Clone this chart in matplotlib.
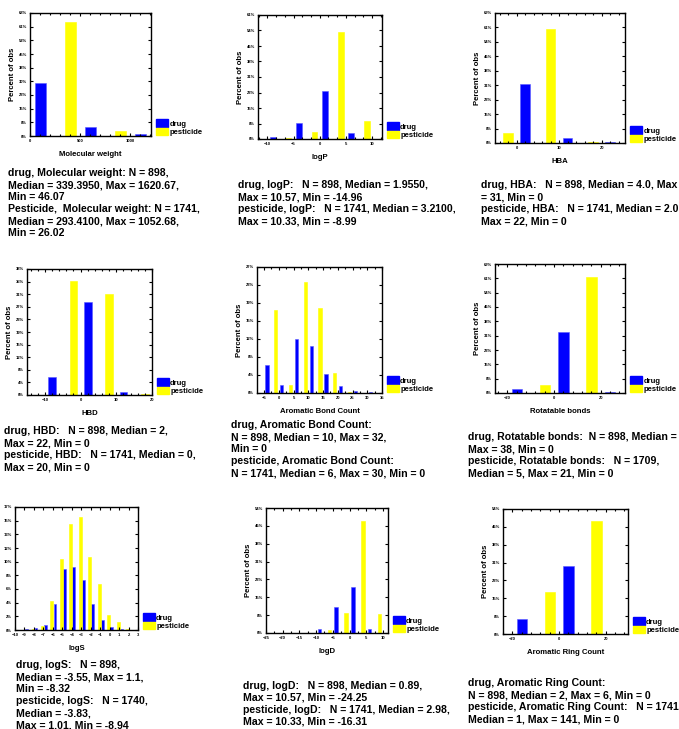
import matplotlib.pyplot as plt
from matplotlib.patches import Patch
from matplotlib.ticker import AutoMinorLocator

plt.rcParams['font.family'] = ['Liberation Sans', 'DejaVu Sans']
plt.rcParams['font.weight'] = 'bold'

W, H = 679, 729
DRUG_COLOR = '#0000ff'
PEST_COLOR = '#ffff00'

# ---- data (percent of all observations, bins given by their centres) ----
mw_bins = [250, 750, 1250]
mw_drug = [29.2, 5.0, 1.1]
mw_pest = [63.2, 2.8, 0.0]

logp_bins = [-12.5, -7.5, -2.5, 2.5, 7.5]
logp_drug = [0.0, 1.0, 7.8, 23.5, 2.8]
logp_pest = [0.0, 0.6, 3.6, 52.8, 9.1]

hba_bins = [-5, 5, 15, 25]
hba_drug = [0.0, 31.5, 2.6, 0.4]
hba_pest = [5.3, 60.6, 0.3, 0.0]

hbd_bins = [-5, 5, 15]
hbd_drug = [5.6, 28.2, 1.0]
hbd_pest = [34.7, 30.8, 0.2]

abc_bins = [-2.5, 2.5, 7.5, 12.5, 17.5, 22.5, 27.5, 32.5]
abc_drug = [6.0, 1.6, 11.5, 9.9, 4.0, 1.4, 0.5, 0.2]
abc_pest = [17.7, 1.6, 23.7, 18.1, 4.3, 0.3, 0.0, 0.0]

rot_bins = [-10, 10, 30]
rot_drug = [2.1, 32.6, 0.7]
rot_pest = [4.1, 61.8, 0.0]

logs_bins = [-9, -8, -7, -6, -5, -4, -3, -2, -1, 0, 1, 2]
logs_drug = [0.14, 0.3, 0.75, 3.6, 8.5, 8.9, 7.0, 3.6, 1.45, 0.47, 0.14, 0.0]
logs_pest = [0.0, 0.2, 0.6, 4.1, 9.9, 14.9, 15.9, 10.2, 6.4, 2.1, 1.1, 0.14]

logd_bins = [-22.5, -17.5, -12.5, -7.5, -2.5, 2.5, 7.5, 12.5]
logd_drug = [0.2, 0.2, 0.2, 1.6, 11.3, 19.9, 1.6, 0.2]
logd_pest = [0.0, 0.0, 0.2, 1.2, 8.7, 48.1, 8.1, 0.0]

arc_bins = [-10, 10, 30]
arc_drug = [6.3, 29.0, 0.2]
arc_pest = [18.0, 48.4, 0.0]

# y tick labels as printed on each panel (evenly spaced up to the top)
ylab_mw = [0, 8, 15, 23, 30, 38, 45, 53, 61, 68]
ylab_69 = [0, 8, 15, 23, 31, 38, 46, 54, 61, 69]
ylab_61 = [0, 8, 15, 23, 31, 38, 46, 54, 61]
ylab_54 = [0, 8, 15, 23, 31, 38, 46, 54]
ylab_38 = [0, 4, 8, 12, 15, 19, 23, 27, 31, 35, 38]
ylab_27 = [0, 4, 8, 12, 15, 19, 23, 27]
ylab_17 = [0, 2, 4, 6, 8, 10, 12, 13, 15, 17]

txt_mw = ("drug, Molecular weight: N = 898,\nMedian = 339.3950, Max = 1620.67,\nMin = 46.07\n"
          "Pesticide,  Molecular weight: N = 1741,\nMedian = 293.4100, Max = 1052.68,\nMin = 26.02")
txt_logp = ("drug, logP:   N = 898, Median = 1.9550,\nMax = 10.57, Min = -14.96\n"
            "pesticide, logP:   N = 1741, Median = 3.2100,\nMax = 10.33, Min = -8.99")
txt_hba = ("drug, HBA:   N = 898, Median = 4.0, Max\n= 31, Min = 0\n"
           "pesticide, HBA:   N = 1741, Median = 2.0,\nMax = 22, Min = 0")
txt_hbd = ("drug, HBD:   N = 898, Median = 2,\nMax = 22, Min = 0\n"
           "pesticide, HBD:   N = 1741, Median = 0,\nMax = 20, Min = 0")
txt_abc = ("drug, Aromatic Bond Count:\nN = 898, Median = 10, Max = 32,\nMin = 0\n"
           "pesticide, Aromatic Bond Count:\nN = 1741, Median = 6, Max = 30, Min = 0")
txt_rot = ("drug, Rotatable bonds:  N = 898, Median = 5,\nMax = 38, Min = 0\n"
           "pesticide, Rotatable bonds:   N = 1709,\nMedian = 5, Max = 21, Min = 0")
txt_logs = ("drug, logS:   N = 898,\nMedian = -3.55, Max = 1.1,\nMin = -8.32\n"
            "pesticide, logS:   N = 1740,\nMedian = -3.83,\nMax = 1.01, Min = -8.94")
txt_logd = ("drug, logD:   N = 898, Median = 0.89,\nMax = 10.57, Min = -24.25\n"
            "pesticide, logD:   N = 1741, Median = 2.98,\nMax = 10.33, Min = -16.31")
txt_arc = ("drug, Aromatic Ring Count:\nN = 898, Median = 2, Max = 6, Min = 0\n"
           "pesticide, Aromatic Ring Count:   N = 1741,\nMedian = 1, Max = 141, Min = 0")

# axes box in pixels (left, top, right, bottom), text anchor in pixels
panels = [
    dict(bins=mw_bins, drug=mw_drug, pest=mw_pest, bw=500, xlim=(0, 1210), xticks=[0, 500, 1000],
         ylab=ylab_mw, ytop=68.2, xlabel='Molecular weight', box=(30, 13, 151, 136),
         text=txt_mw, tpos=(8, 168), minor=5),
    dict(bins=logp_bins, drug=logp_drug, pest=logp_pest, bw=5, xlim=(-11.8, 11.9),
         xticks=[-10, -5, 0, 5, 10], ylab=ylab_61, ytop=61.3, xlabel='logP',
         box=(258, 15, 382, 139), text=txt_logp, tpos=(238, 180), minor=3),
    dict(bins=hba_bins, drug=hba_drug, pest=hba_pest, bw=10, xlim=(-5.1, 25.5),
         xticks=[0, 10, 20], ylab=ylab_69, ytop=69.0, xlabel='HBA',
         box=(495, 13, 625, 143), text=txt_hba, tpos=(481, 180), minor=5),
    dict(bins=hbd_bins, drug=hbd_drug, pest=hbd_pest, bw=10, xlim=(-15, 20),
         xticks=[-10, 0, 10, 20], ylab=ylab_38, ytop=38.3, xlabel='HBD',
         box=(27, 269, 152, 395), text=txt_hbd, tpos=(4, 426), minor=5),
    dict(bins=abc_bins, drug=abc_drug, pest=abc_pest, bw=5, xlim=(-7.4, 35),
         xticks=[-5, 0, 5, 10, 15, 20, 25, 30, 35], ylab=ylab_27, ytop=26.8,
         xlabel='Aromatic Bond Count', box=(257, 267, 382, 393), text=txt_abc,
         tpos=(231, 420), minor=2),
    dict(bins=rot_bins, drug=rot_drug, pest=rot_pest, bw=20, xlim=(-25.3, 30.4),
         xticks=[-20, 0, 20], ylab=ylab_69, ytop=69.0, xlabel='Rotatable bonds',
         box=(495, 264, 625, 393), text=txt_rot, tpos=(468, 432), minor=5),
    dict(bins=logs_bins, drug=logs_drug, pest=logs_pest, bw=1, xlim=(-10, 3),
         xticks=list(range(-10, 4)), ylab=ylab_17, ytop=17.25, xlabel='logS',
         box=(15, 507, 138, 630), text=txt_logs, tpos=(16, 660), minor=1,
         doff=0.22, poff=-0.1, width=0.3),
    dict(bins=logd_bins, drug=logd_drug, pest=logd_pest, bw=5, xlim=(-25, 11.5),
         xticks=[-25, -20, -15, -10, -5, 0, 5, 10], ylab=ylab_54, ytop=53.7, xlabel='logD',
         box=(266, 508, 388, 633), text=txt_logd, tpos=(243, 681), minor=2),
    dict(bins=arc_bins, drug=arc_drug, pest=arc_pest, bw=20, xlim=(-24, 29.5),
         xticks=[-20, 0, 20], ylab=ylab_54, ytop=53.7, xlabel='Aromatic Ring Count',
         box=(503, 509, 628, 634), text=txt_arc, tpos=(468, 678), minor=5),
]

fig = plt.figure(figsize=(W / 100, H / 100), dpi=100)

for p in panels:
    l, t, r, b = p['box']
    ax = fig.add_axes([l / W, 1 - b / H, (r - l) / W, (b - t) / H])
    bw = p['bw']
    doff = p.get('doff', -0.3) * bw
    poff = p.get('poff', 0.3) * bw
    width = p.get('width', 0.22) * bw
    xs = p['bins']
    ax.bar([x + doff for x in xs], p['drug'], width=width, color=DRUG_COLOR,
           edgecolor='#5a5aff', linewidth=0.4, label='drug')
    ax.bar([x + poff for x in xs], p['pest'], width=width, color=PEST_COLOR,
           edgecolor=PEST_COLOR, linewidth=0.4, label='pesticide')

    ax.set_xlim(*p['xlim'])
    ax.set_ylim(0, p['ytop'])
    n = len(p['ylab'])
    ax.set_yticks([p['ytop'] * i / (n - 1) for i in range(n)])
    ax.set_yticklabels([f'{v}%' for v in p['ylab']])
    ax.set_xticks(p['xticks'])
    if p['minor'] > 1:
        ax.xaxis.set_minor_locator(AutoMinorLocator(p['minor']))
    ax.tick_params(which='both', direction='in', top=True, right=True,
                   labelsize=3, pad=2, width=0.8)
    ax.tick_params(which='major', length=2.5)
    ax.tick_params(which='minor', length=1.5)
    for s in ax.spines.values():
        s.set_linewidth(1.0)

    ax.set_xlabel(p['xlabel'], fontsize=5.6, fontweight='bold', labelpad=6)
    ax.set_ylabel('Percent of obs', fontsize=5.6, fontweight='bold', labelpad=2)

    handles = [Patch(facecolor=DRUG_COLOR, edgecolor=DRUG_COLOR, label='drug'),
               Patch(facecolor=PEST_COLOR, edgecolor=PEST_COLOR, label='pesticide')]
    ax.legend(handles=handles, loc='lower left', bbox_to_anchor=(1 + 4.5 / (r - l), 0),
              frameon=False, handlelength=1.65, handleheight=1.1,
              handletextpad=0.15, labelspacing=0.0, borderpad=0, borderaxespad=0,
              prop={'weight': 'bold', 'size': 5.5})

    fig.text(p['tpos'][0] / W, 1 - p['tpos'][1] / H, p['text'], ha='left', va='top',
             fontsize=7.6, fontweight='bold', linespacing=1.25)

fig.savefig('out.png', dpi=100)
